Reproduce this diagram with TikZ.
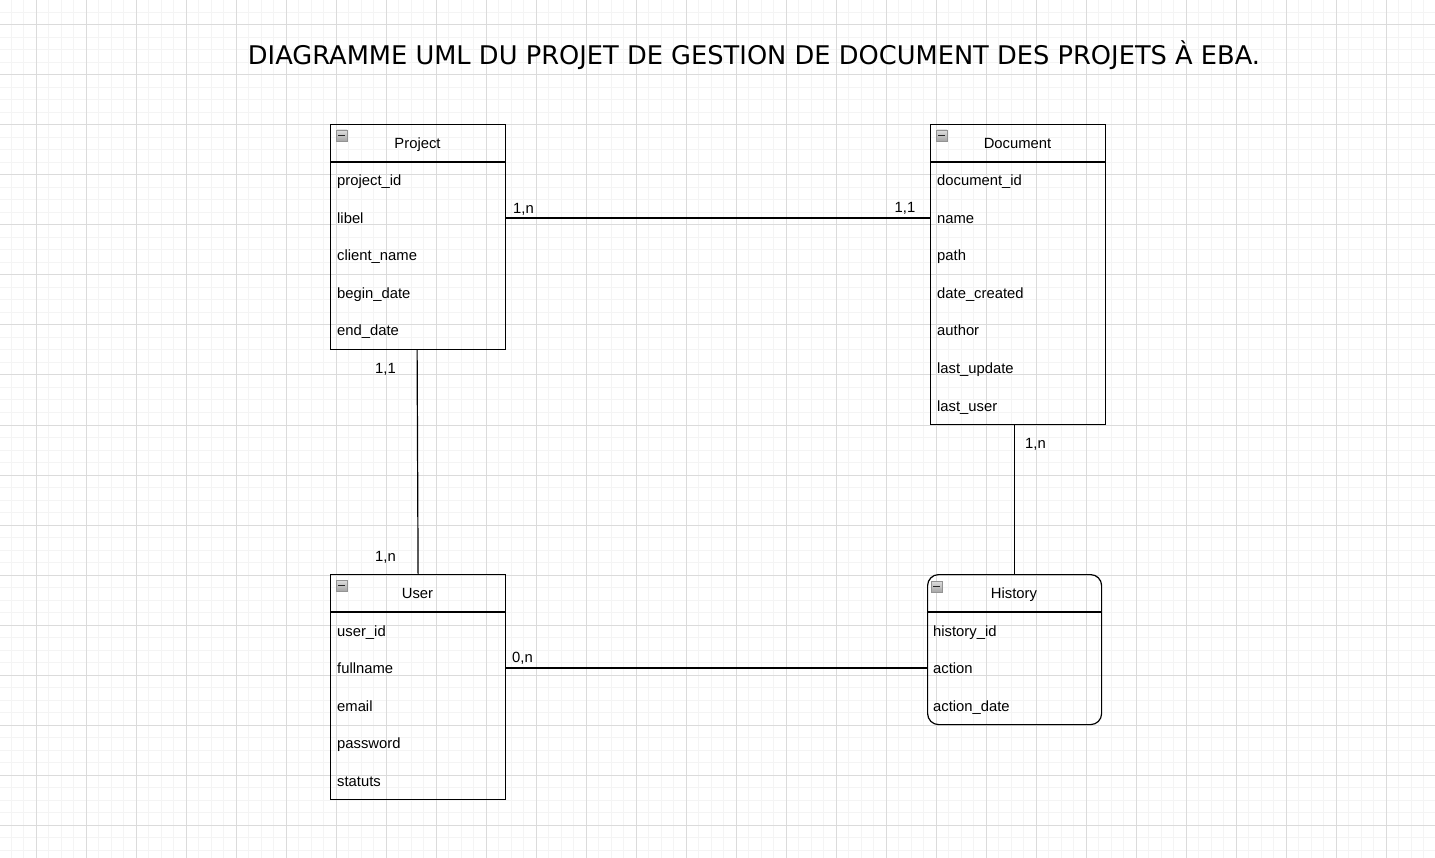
\documentclass[tikz,border=0pt]{standalone}
\usepackage{fontspec}
\setmainfont{Liberation Sans}
\newfontfamily\titlefont{DejaVu Sans}
\begin{document}
\begin{tikzpicture}[x=1pt,y=-1pt,
  entitybox/.style={draw=black, line width=1.2pt, minimum width=175pt, inner sep=0pt, anchor=north west},
  hdrtext/.style={font=\fontsize{14.8}{17}\selectfont, anchor=base, inner sep=0pt},
  fieldtext/.style={font=\fontsize{14.8}{17}\selectfont, anchor=base west, inner sep=0pt},
  multlabel/.style={font=\fontsize{14.8}{17}\selectfont, anchor=base, inner sep=0pt},
  conn/.style={draw=black, line width=1.2pt},
  sepline/.style={draw=black, line width=1.2pt},
  iconbox/.style={draw=gray!85, line width=0.8pt, top color=gray!25, bottom color=gray!70,
     minimum width=11pt, minimum height=11pt, inner sep=0pt,
     path picture={\draw[black!85, line width=1.6pt] ([xshift=2.2pt]path picture bounding box.west) -- ([xshift=-2.2pt]path picture bounding box.east);}},
  minorgrid/.style={draw=gray!9, line width=1pt},
  majorgrid/.style={draw=gray!28, line width=1pt}
]
\useasboundingbox (0,0) rectangle (1435,858);
\fill[white] (0,0) rectangle (1435,858);
% grid
\foreach \x in {11,23.5,...,1435} \draw[minorgrid] (\x,0) -- (\x,858);
\foreach \y in {0,12.5,...,858} \draw[minorgrid] (0,\y) -- (1435,\y);
\foreach \x in {36,86,...,1435} \draw[majorgrid] (\x,0) -- (\x,858);
\foreach \y in {25,75,...,858} \draw[majorgrid] (0,\y) -- (1435,\y);

% title
\node[anchor=base, inner sep=0pt, font=\titlefont\fontsize{25.7}{30}\selectfont] (title) at (754,64.3)
  {DIAGRAMME UML DU PROJET DE GESTION DE DOCUMENT DES PROJETS À EBA.};

% Project
\node[entitybox, minimum height=225pt] (project) at (330,124) {};
\draw[sepline] ([yshift=-38pt]project.north west) -- ([yshift=-38pt]project.north east);
\node[iconbox] (projecticon) at (341.5,135.5) {};
\node[hdrtext] (projecttitle) at (417.5,148.3) {Project};
\node[fieldtext] (p1) at (337,186) {project\_id};
\node[fieldtext] (p2) at (337,223.5) {libel};
\node[fieldtext] (p3) at (337,261) {client\_name};
\node[fieldtext] (p4) at (337,298.5) {begin\_date};
\node[fieldtext] (p5) at (337,336) {end\_date};

% Document
\node[entitybox, minimum height=300pt] (document) at (930,124) {};
\draw[sepline] ([yshift=-38pt]document.north west) -- ([yshift=-38pt]document.north east);
\node[iconbox] (documenticon) at (941.5,135.5) {};
\node[hdrtext] (documenttitle) at (1017.5,148.3) {Document};
\node[fieldtext] (d1) at (937,186) {document\_id};
\node[fieldtext] (d2) at (937,223.5) {name};
\node[fieldtext] (d3) at (937,261) {path};
\node[fieldtext] (d4) at (937,298.5) {date\_created};
\node[fieldtext] (d5) at (937,336) {author};
\node[fieldtext] (d6) at (937,373.5) {last\_update};
\node[fieldtext] (d7) at (937,411) {last\_user};

% User
\node[entitybox, minimum height=225pt] (user) at (330,574) {};
\draw[sepline] ([yshift=-38pt]user.north west) -- ([yshift=-38pt]user.north east);
\node[iconbox] (usericon) at (341.5,585.5) {};
\node[hdrtext] (usertitle) at (417.5,598.3) {User};
\node[fieldtext] (u1) at (337,636) {user\_id};
\node[fieldtext] (u2) at (337,673.5) {fullname};
\node[fieldtext] (u3) at (337,711) {email};
\node[fieldtext] (u4) at (337,748.5) {password};
\node[fieldtext] (u5) at (337,786) {statuts};

% History
\node[entitybox, minimum width=174pt, minimum height=150pt, rounded corners=11pt] (history) at (927,574) {};
\draw[sepline] ([yshift=-38pt]history.north west) -- ([yshift=-38pt]history.north east);
\node[iconbox] (historyicon) at (936.5,586.5) {};
\node[hdrtext] (historytitle) at (1014,598.3) {History};
\node[fieldtext] (h1) at (933,636) {history\_id};
\node[fieldtext] (h2) at (933,673.5) {action};
\node[fieldtext] (h3) at (933,711) {action\_date};

% connectors
\draw[conn] (project.east |- 0,218) -- (document.west |- 0,218);
\draw[conn] (user.east |- 0,668) -- (history.west |- 0,668);
\draw[conn] ([xshift=-1pt]project.south) -- (user.north);
\draw[conn] (history.north) -- (history.north |- document.south);

% multiplicities
\node[multlabel] (m1) at (523.5,213.8) {1,n};
\node[multlabel] (m2) at (905,212.5) {1,1};
\node[multlabel] (m3) at (385.5,373.3) {1,1};
\node[multlabel] (m4) at (385.5,561.2) {1,n};
\node[multlabel] (m5) at (1035.5,448.3) {1,n};
\node[multlabel] (m6) at (522.5,662.3) {0,n};
\end{tikzpicture}
\end{document}
